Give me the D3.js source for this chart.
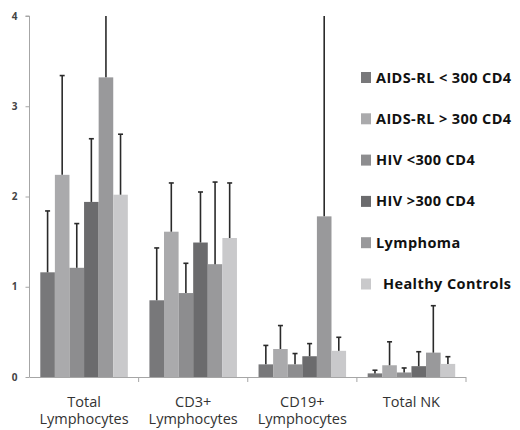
<!DOCTYPE html>
<html>
<head>
<meta charset="utf-8">
<script src="https://cdn.jsdelivr.net/npm/d3@7"></script>
<style>
  html, body { margin: 0; padding: 0; background: #fff; }
  svg { display: block; }
</style>
</head>
<body>
<svg id="chart" width="520" height="430"></svg>
<script>
// Cell populations (x 10^9/L) per patient group
const categories = [["Total", "Lymphocytes"], ["CD3+", "Lymphocytes"], ["CD19+", "Lymphocytes"], ["Total NK"]];
const seriesNames = ["AIDS-RL < 300 CD4", "AIDS-RL > 300 CD4", "HIV <300 CD4", "HIV >300 CD4", "Lymphoma", "Healthy Controls"];

// Mean values, one array per group, in category order
const aidsLow    = [1.16, 0.85, 0.14, 0.04];
const aidsHigh   = [2.24, 1.61, 0.31, 0.13];
const hivLow     = [1.21, 0.93, 0.14, 0.05];
const hivHigh    = [1.94, 1.49, 0.23, 0.12];
const lymphoma   = [3.32, 1.25, 1.78, 0.27];
const controls   = [2.02, 1.54, 0.29, 0.145];

// Standard deviations (upper error bars)
const aidsLowSd  = [0.68, 0.58, 0.21, 0.035];
const aidsHighSd = [1.10, 0.54, 0.26, 0.26];
const hivLowSd   = [0.49, 0.33, 0.12, 0.05];
const hivHighSd  = [0.70, 0.56, 0.14, 0.16];
const lymphomaSd = [0.80, 0.91, 2.40, 0.52];
const controlsSd = [0.67, 0.61, 0.15, 0.08];

const yTicks = [0, 1, 2, 3, 4];

const seriesValues = [aidsLow, aidsHigh, hivLow, hivHigh, lymphoma, controls];
const seriesSd = [aidsLowSd, aidsHighSd, hivLowSd, hivHighSd, lymphomaSd, controlsSd];
const colors = ["#78787a", "#aaaaac", "#8d8d8f", "#6b6b6d", "#99999b", "#c9c9cb"];

const svg = d3.select("#chart");
const margin = { left: 29.5, right: 54, top: 16, bottom: 53 };
const W = 520, H = 430;

const catKeys = categories.map(c => c.join(" "));
const x0 = d3.scaleBand().domain(catKeys).range([margin.left, 466]).paddingInner(0).paddingOuter(0);
const x1 = d3.scaleBand().domain(d3.range(seriesNames.length)).range([0, x0.bandwidth()]).paddingInner(0).paddingOuter(0.74);
const y = d3.scaleLinear().domain([0, 4]).range([H - margin.bottom, margin.top]);

svg.append("defs").append("clipPath").attr("id", "plot")
  .append("rect").attr("x", 0).attr("y", y(4)).attr("width", W).attr("height", y(0) - y(4) + 1);

// Bars
const groups = svg.append("g").selectAll("g")
  .data(catKeys)
  .join("g")
  .attr("transform", d => `translate(${x0(d)},0)`);

const barData = (key, ci) => seriesValues.map((vals, si) => ({ si, v: vals[ci], sd: seriesSd[si][ci] }));

groups.selectAll("rect")
  .data((d, ci) => barData(d, ci))
  .join("rect")
  .attr("x", d => x1(d.si))
  .attr("y", d => y(d.v))
  .attr("width", x1.bandwidth())
  .attr("height", d => y(0) - y(d.v))
  .attr("fill", d => colors[d.si]);

// Upper error bars
const errG = svg.append("g").attr("clip-path", "url(#plot)");
catKeys.forEach((key, ci) => {
  barData(key, ci).forEach(d => {
    const cx = x0(key) + x1(d.si) + x1.bandwidth() / 2;
    const top = d.v + d.sd;
    errG.append("line")
      .attr("x1", cx).attr("x2", cx)
      .attr("y1", y(d.v)).attr("y2", y(Math.min(top, 4.05)))
      .attr("stroke", "#2a2a2a").attr("stroke-width", 1.6);
    if (top <= 4) {
      errG.append("line")
        .attr("x1", cx - 2.5).attr("x2", cx + 2.5)
        .attr("y1", y(top)).attr("y2", y(top))
        .attr("stroke", "#2a2a2a").attr("stroke-width", 1.6);
    }
  });
});

// Y axis
const yAxis = svg.append("g")
  .attr("transform", `translate(${margin.left},0)`)
  .call(d3.axisLeft(y).tickValues(yTicks).tickFormat(d3.format("d")).tickSize(4).tickPadding(8));
yAxis.select(".domain").attr("stroke", "#a6a6a6").attr("d", `M-4,${y(4)}H0V${y(0)}`);
yAxis.selectAll(".tick line").attr("stroke", "#a6a6a6");
yAxis.selectAll(".tick text")
  .attr("font-family", "'Open Sans', sans-serif")
  .attr("font-size", 10).attr("font-weight", "bold").attr("fill", "#444");

// X axis with ticks on category boundaries
const xg = svg.append("g");
xg.append("line")
  .attr("x1", margin.left).attr("x2", x0.range()[1])
  .attr("y1", y(0) + 0.5).attr("y2", y(0) + 0.5)
  .attr("stroke", "#a6a6a6");
xg.selectAll("line.b")
  .data(catKeys)
  .join("line")
  .attr("class", "b")
  .attr("x1", d => x0(d) + x0.bandwidth()).attr("x2", d => x0(d) + x0.bandwidth())
  .attr("y1", y(0)).attr("y2", y(0) + 5)
  .attr("stroke", "#a6a6a6");

const labels = xg.selectAll("text")
  .data(categories)
  .join("text")
  .attr("text-anchor", "middle")
  .attr("font-family", "'Open Sans', sans-serif")
  .attr("font-size", 14.5)
  .attr("fill", "#333")
  .attr("x", (d, i) => x0(catKeys[i]) + x0.bandwidth() / 2)
  .attr("y", 406.5);
labels.selectAll("tspan")
  .data(d => d)
  .join("tspan")
  .attr("x", function () { return this.parentNode.getAttribute("x"); })
  .attr("dy", (d, i) => i === 0 ? 0 : 17.5)
  .text(d => d);

// Legend
const legend = svg.append("g").attr("transform", "translate(361,72)");
const rows = legend.selectAll("g")
  .data(seriesNames)
  .join("g")
  .attr("transform", (d, i) => `translate(0,${i * 41.3})`);
rows.append("rect")
  .attr("width", 10).attr("height", 11)
  .attr("fill", (d, i) => colors[i]);
rows.append("text")
  .attr("x", (d, i) => i === seriesNames.length - 1 ? 22 : 15)
  .attr("y", 10.5)
  .attr("font-family", "'Open Sans', sans-serif")
  .attr("font-weight", "bold")
  .attr("font-size", 14.5)
  .attr("letter-spacing", 0.4)
  .attr("fill", "#111")
  .text(d => d);
</script>
</body>
</html>
